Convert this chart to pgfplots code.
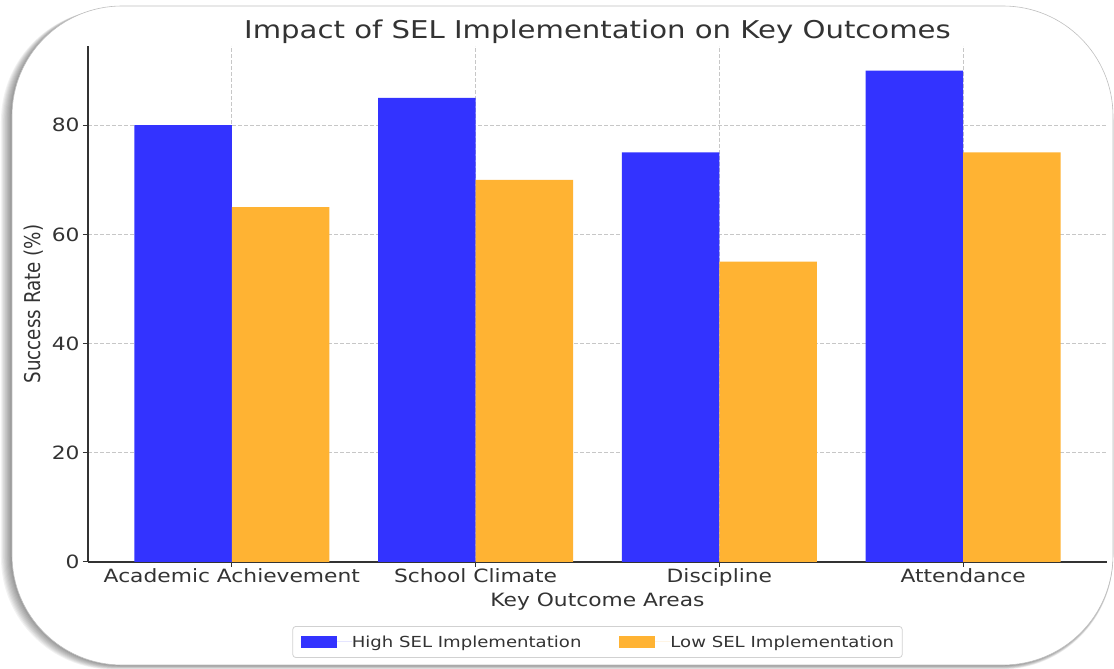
\documentclass[border=0pt]{standalone}
\usepackage{fontspec}
\setmainfont{DejaVu Sans}[FakeStretch=1.19]
\newfontfamily\ylabfont{DejaVu Sans}
\usepackage{pgfplots}
\pgfplotsset{compat=1.18}
\definecolor{highc}{RGB}{51,51,255}
\definecolor{lowc}{RGB}{255,179,51}
\definecolor{txt}{RGB}{51,51,51}
\begin{document}
\begin{tikzpicture}
\path[use as bounding box] (0pt,0pt) rectangle (1114pt,669pt);
% frame shadow
\foreach \i in {1,...,10}{
  \fill[black, opacity=0.05, rounded corners=112pt] ({(12-\i*1.1)*1pt}, {(4-\i*0.45)*1pt}) rectangle (1113pt, {(663-\i*0.3)*1pt});
}
\fill[white, rounded corners=110pt] (12pt,4pt) rectangle (1113pt,663pt);
\draw[black!25, line width=0.6pt, rounded corners=110pt] (12pt,4pt) rectangle (1113pt,663pt);
\begin{axis}[
  at={(88pt,107pt)}, anchor=south west,
  width=1019pt, height=516pt, scale only axis,
  xmin=-0.59, xmax=3.59, ymin=0, ymax=94.5,
  axis x line*=bottom, axis y line*=left,
  axis line style={draw=txt, line width=1.4pt},
  xtick={0,1,2,3},
  xticklabels={Academic Achievement, School Climate, Discipline, Attendance},
  ytick={0,20,40,60,80},
  tick style={draw=txt, line width=1pt},
  tick align=outside, major tick length=5pt,
  grid=major,
  grid style={draw=black!22, line width=0.7pt, dash pattern=on 4pt off 2pt},
  ybar, bar width=0.4,
  /pgf/number format/assume math mode=true,
  tick label style={font=\fontsize{18.3}{22}\selectfont, text=txt},
  xticklabel style={yshift=1.5pt},
  title={Impact of SEL Implementation on Key Outcomes},
  title style={font=\fontsize{24.5}{29}\selectfont, text=txt, at={(axis description cs:0.5,1)}, anchor=base, yshift=1pt},
  xlabel={Key Outcome Areas},
  xlabel style={font=\fontsize{18.3}{22}\selectfont, text=txt, at={(axis description cs:0.5,0)}, anchor=base, yshift=-45pt},
  ylabel={\ylabfont\scalebox{1}[1.19]{Success Rate (\%)}},
  ylabel style={font=\fontsize{18.3}{22}\selectfont, text=txt, at={(axis description cs:0,0.5)}, anchor=center, yshift=54pt},
  legend columns=2,
  legend style={font=\fontsize{15.2}{18}\selectfont, text=txt, draw=black!18, line width=0.8pt, rounded corners=3pt,
    at={(axis description cs:0.5,-0.155)}, anchor=center,
    nodes={inner xsep=0pt, inner ysep=4pt},
    /tikz/every odd column/.append style={column sep=0pt},
    /tikz/every even column/.append style={column sep=38pt},
    inner xsep=8pt, inner ysep=5pt},
  legend image code/.code={\fill[#1, sharp corners] (0pt,-6pt) rectangle (36pt,6pt); \path (0pt,0pt) -- (51pt,0pt);},
]
\addplot[fill=highc, draw=none, bar shift=-0.2] coordinates {(0,80) (1,85) (2,75) (3,90)};
\addplot[fill=lowc, draw=none, bar shift=0.2] coordinates {(0,65) (1,70) (2,55) (3,75)};
\legend{High SEL Implementation, Low SEL Implementation}
\end{axis}
\end{tikzpicture}
\end{document}
